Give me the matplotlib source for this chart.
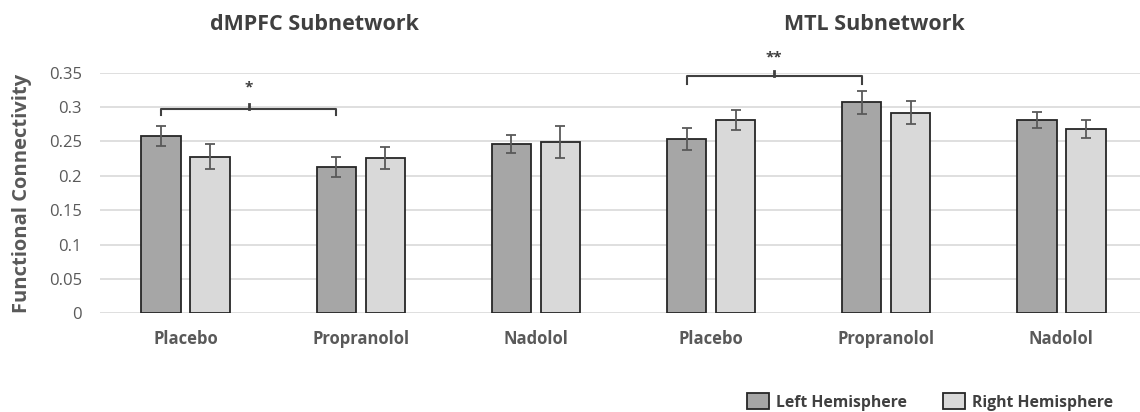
import numpy as np
import matplotlib.pyplot as plt

plt.rcParams['font.family'] = ['Open Sans', 'DejaVu Sans']

drugs = ['Placebo', 'Propranolol', 'Nadolol', 'Placebo', 'Propranolol', 'Nadolol']
subnets = ['dMPFC Subnetwork', 'MTL Subnetwork']

left_vals = [0.258, 0.213, 0.246, 0.253, 0.307, 0.281]
left_err = [0.014, 0.015, 0.013, 0.016, 0.017, 0.012]
right_vals = [0.228, 0.226, 0.249, 0.281, 0.292, 0.268]
right_err = [0.018, 0.016, 0.023, 0.015, 0.017, 0.013]

x = np.arange(len(drugs))
w = 0.228
off = 0.14
grey = '#595959'
dark = '#404040'

fig = plt.figure(figsize=(11.4, 4.12), dpi=100)
ax = fig.add_axes([100/1140, 1 - 313.3/412, 1040/1140, (313.3 - 72.7)/412])

ax.bar(x - off, left_vals, w, color='#a6a6a6', edgecolor='#262626', linewidth=1.3,
       label='Left Hemisphere', zorder=3)
ax.bar(x + off, right_vals, w, color='#d9d9d9', edgecolor='#262626', linewidth=1.3,
       label='Right Hemisphere', zorder=3)
ax.errorbar(x - off, left_vals, yerr=left_err, fmt='none', ecolor=grey,
            elinewidth=1.3, capsize=3.5, capthick=1.3, zorder=4)
ax.errorbar(x + off, right_vals, yerr=right_err, fmt='none', ecolor=grey,
            elinewidth=1.3, capsize=3.5, capthick=1.3, zorder=4)

ax.set_xlim(-0.491, 5.451)
ax.set_ylim(0, 0.35)
ax.set_yticks(np.arange(0, 0.351, 0.05))
ax.set_yticklabels(['0', '0.05', '0.1', '0.15', '0.2', '0.25', '0.3', '0.35'])
ax.yaxis.grid(True, color='#d9d9d9', linewidth=1.2, zorder=0)
ax.set_axisbelow(True)
for s in ax.spines.values():
    s.set_visible(False)
ax.tick_params(axis='y', length=0, colors=grey, labelsize=12, pad=13)
ax.tick_params(axis='x', length=0, colors=grey, labelsize=12, pad=12)
ax.set_xticks(x)
ax.set_xticklabels(drugs, fontweight='bold')
ax.set_ylabel('Functional Connectivity', fontsize=14.5, fontweight='bold', color=grey, labelpad=12)

# significance brackets
def bracket(x1, x2, y, tip, stars, ys):
    xm = (x1 + x2) / 2
    ax.plot([x1, x1, x2, x2], [y - tip, y, y, y - tip], color=dark, lw=1.5, clip_on=False, zorder=5)
    ax.plot([xm, xm], [y, y + 0.008], color=dark, lw=2, clip_on=False, zorder=5)
    ax.text(xm, ys, stars, ha='center', va='center', fontsize=11, color=dark, fontweight='bold')

bracket(0 - off, 1 - off, 0.297, 0.008, '*', 0.328)
bracket(3 - off, 4 - off, 0.345, 0.012, '**', 0.372)

fig.text(314/1140, 1 - 25/412, subnets[0], ha='center', va='center', fontsize=15.5,
         fontweight='bold', color=dark)
fig.text(874/1140, 1 - 25/412, subnets[1], ha='center', va='center', fontsize=15.5,
         fontweight='bold', color=dark)

leg = fig.legend(loc='center', bbox_to_anchor=(930/1140, 1 - 402/412), ncol=2, frameon=False,
                 handlelength=1.4, handleheight=1.2, columnspacing=2.35,
                 handletextpad=0.45, prop={'weight': 'bold', 'size': 11.3})
for t in leg.get_texts():
    t.set_color(dark)

fig.savefig('out.png', dpi=100)
